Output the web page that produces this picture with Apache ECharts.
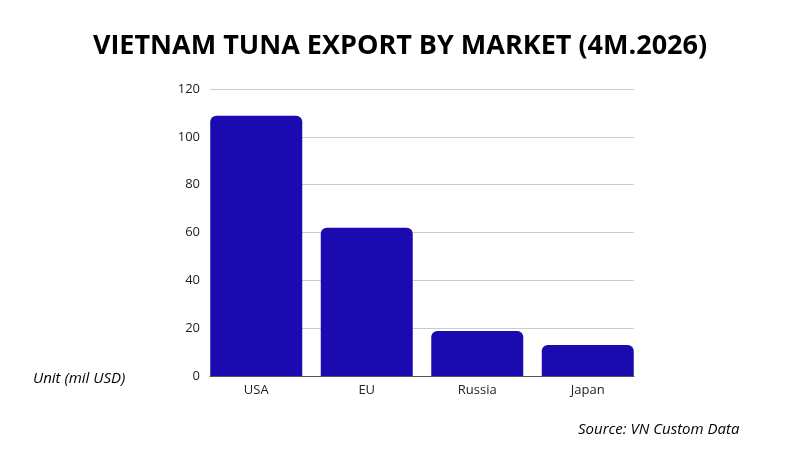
<!DOCTYPE html>
<html><head><meta charset="utf-8">
<script src="https://cdn.jsdelivr.net/npm/echarts@6/dist/echarts.min.js"></script>
<style>html,body{margin:0;padding:0;background:#fff}#c{width:800px;height:450px}</style>
</head><body><div id="c"></div>
<script>
const categories = ["USA", "EU", "Russia", "Japan"];
const values = [108.8, 62, 18.8, 13];
const yTicks = [0, 120, 20];
const chart = echarts.init(document.getElementById('c'));
const lab = {color: '#222', fontFamily: 'Open Sans', fontSize: 13};
chart.setOption({
  backgroundColor: '#fff',
  title: [
    {text: 'VIETNAM TUNA EXPORT BY MARKET (4M.2026)', left: 'center', top: 28,
     textStyle: {fontFamily: 'Open Sans', fontWeight: 'bold', fontSize: 27, color: '#000'}},
    {text: 'Unit (mil USD)', left: 28, top: 366, textStyle: {fontFamily: 'Open Sans', fontStyle: 'italic', fontWeight: 'normal', fontSize: 15, color: '#000'}},
    {text: 'Source: VN Custom Data', left: 573, top: 417, textStyle: {fontFamily: 'Open Sans', fontStyle: 'italic', fontWeight: 'normal', fontSize: 15, color: '#000'}}
  ],
  grid: [
    {left: 201, right: 157, top: 89, bottom: 74},
    {left: 210, right: 166, top: 89, bottom: 74}
  ],
  xAxis: [
    {type: 'category', data: categories, gridIndex: 0,
     axisLine: {show: false}, axisTick: {show: false},
     axisLabel: Object.assign({margin: 8}, lab)},
    {type: 'category', data: categories, gridIndex: 1,
     axisLine: {lineStyle: {color: '#555'}}, axisTick: {show: false}, axisLabel: {show: false}}
  ],
  yAxis: [
    {type: 'value', gridIndex: 0, min: yTicks[0], max: yTicks[1], interval: yTicks[2],
     axisLabel: {show: false}, splitLine: {show: false}, axisLine: {show: false}},
    {type: 'value', gridIndex: 1, min: yTicks[0], max: yTicks[1], interval: yTicks[2],
     axisLabel: Object.assign({margin: 10}, lab), splitLine: {lineStyle: {color: '#ccc'}}}
  ],
  series: [
    {type: 'bar', xAxisIndex: 1, yAxisIndex: 1, data: [], silent: true},
    {type: 'bar', xAxisIndex: 0, yAxisIndex: 0, data: values, barWidth: 92, z: 3,
     itemStyle: {color: '#1a0ab0', borderRadius: [6, 6, 0, 0]}}
  ]
});
</script></body></html>
